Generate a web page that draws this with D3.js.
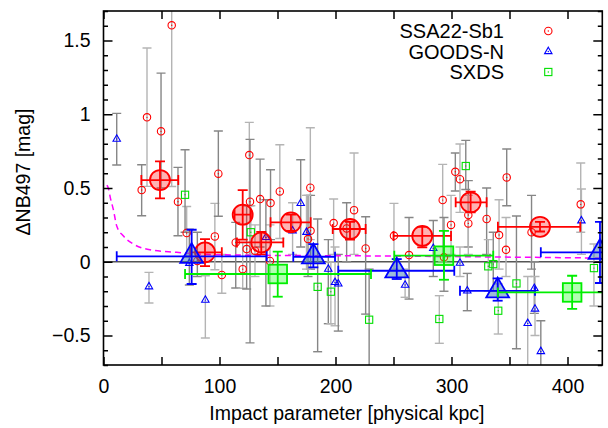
<!DOCTYPE html>
<html><head><meta charset="utf-8">
<script src="https://cdn.jsdelivr.net/npm/d3@7"></script>
<style>
body{margin:0;background:#fff}
svg{display:block}
text{font-family:"Liberation Sans",Arial,Helvetica,sans-serif;fill:#000}
</style>
</head><body>
<svg id="c" width="608" height="428"></svg>
<script>
// ---------------- data ----------------
const xTicks = [0, 100, 200, 300, 400];
const yTicks = [-0.5, 0, 0.5, 1, 1.5];
const seriesNames = ["SSA22-Sb1", "GOODS-N", "SXDS"];
const xLabel = "Impact parameter [physical kpc]";
const yLabel = "\u0394NB497 [mag]";

// individual galaxies: [impact kpc, dmag, err low, err high]
const ssa22Points = [
  [32.9, 0.486, 0.312, 0.658], [37.5, 0.979, 0.511, 1.449], [49.6, 0.884, 0.50, 1.279],
  [58.8, 1.603, 0.51, 1.80], [64.2, 0.407, 0.176, 0.64], [71.7, 0.195, 0.03, 0.375],
  [80.9, 0.005, -0.10, 0.20], [96, 0.172, -0.054, 0.396], [99, 0.597, 0.308, 0.886],
  [102, -0.09, -0.214, 0.05], [114, 0.131, -0.178, 0.267], [120, -0.05, -0.18, 0.13],
  [123.4, 0.086, -0.185, 0.38], [125.7, 0.723, 0.38, 0.945], [126.3, 0.407, -0.55, 0.83],
  [130.6, 0.075, -0.10, 0.25], [135, 0.425, 0.10, 0.696], [143.5, 0.005, -0.30, 0.25],
  [144, 0.398, 0.15, 0.624], [152, 0.477, 0.158, 0.793], [176.3, 0.154, -0.10, 0.45],
  [178.3, 0.502, 0.15, 0.908], [178.5, 0.21, -0.05, 0.45], [198.4, 0.262, 0.05, 0.425],
  [209.6, 0.226, 0.0, 0.40], [216, 0.35, 0.05, 0.737], [226, 0.09, -0.355, 0.305],
  [250.4, 0.176, -0.05, 0.396], [263.4, 0.045, -0.253, 0.30], [292.4, 0.418, 0.0, 0.66],
  [293.5, 0.03, -0.20, 0.30], [299.6, 0.25, 0.05, 0.45], [303.3, 0.61, 0.48, 0.737],
  [307.3, 0.56, 0.335, 0.798], [314.5, 0.317, 0.10, 0.55], [314.5, 0.26, 0.05, 0.45],
  [330.3, 0.29, 0.05, 0.50], [341, 0.181, -0.05, 0.42], [347.6, 0.572, 0.38, 0.764],
  [347, 0.081, -0.10, 0.30], [369, 0.20, -0.05, 0.45], [411.4, 0.389, 0.20, 0.669]
];
const goodsnPoints = [
  [11.4, 0.832, 0.656, 1.006], [39.2, -0.169, -0.28, -0.072], [74, -0.01, -0.158, 0.22],
  [87.8, -0.26, -0.517, -0.095], [140, 0.165, -0.30, 0.42], [163, 0.21, 0.05, 0.40],
  [170, 0.396, 0.10, 0.692], [175, 0.20, -0.05, 0.45], [193.8, -0.05, -0.42, 0.15],
  [199.6, -0.14, -0.434, 0.10], [202.4, -0.15, -0.47, 0.05], [260, -0.158, -0.241, -0.05],
  [284.3, 0.091, -0.10, 0.28], [307.3, -0.009, -0.10, 0.10], [313.6, -0.197, -0.332, -0.079],
  [365.7, -0.418, -0.75, -0.10], [371.4, -0.18, -0.35, 0.0], [372, -0.32, -0.50, -0.10],
  [377, -0.608, -0.75, -0.40], [412, 0.278, 0.05, 0.493]
];
const sxdsPoints = [
  [70.3, 0.454, 0.20, 0.759], [127, 0.20, 0.05, 0.38], [184.6, -0.17, -0.61, 0.29],
  [196, -0.203, -0.42, 0.0], [229, -0.393, -0.75, -0.05], [289.5, -0.388, -0.553, -0.23],
  [312.3, 0.649, 0.49, 0.823], [331.7, -0.031, -0.20, 0.15], [336, -0.016, -0.20, 0.20],
  [340.3, -0.332, -0.49, -0.15], [356, -0.147, -0.59, 0.31], [422.8, -0.043, -0.30, 0.12]
];

// binned averages: [kpc, dmag, kpc low, kpc high, err low, err high]
const ssa22Bins = [
  [48.7, 0.554, 32.6, 64.5, 0.43, 0.68], [87.5, 0.064, 75, 102, -0.03, 0.154],
  [120, 0.319, 113, 127, 0.15, 0.486], [136, 0.131, 115, 155, 0.05, 0.203],
  [161.6, 0.267, 144, 178.6, 0.21, 0.32], [212.5, 0.222, 197.6, 226, 0.15, 0.27],
  [274.8, 0.175, 250, 299.6, 0.098, 0.237], [316.5, 0.403, 303.6, 330.3, 0.335, 0.475],
  [376.3, 0.237, 340, 411, 0.205, 0.27]
];
const goodsnBins = [
  [76, 0.037, 11.4, 140.7, -0.151, 0.217], [180.9, 0.034, 163.6, 199.6, -0.038, 0.12],
  [252.8, -0.061, 202.4, 302.4, -0.117, 0.018], [339.8, -0.197, 307.3, 372, -0.264, -0.113],
  [428, 0.064, 377, 480, -0.144, 0.27]
];
const sxdsBins = [
  [150.2, -0.083, 70.3, 230.6, -0.237, 0.068], [293.5, 0.041, 250.7, 336, -0.122, 0.21],
  [404, -0.208, 340, 470, -0.32, -0.095]
];

// dashed model curve
const modelKpc = [3, 4.1, 6, 8.4, 11.5, 17, 25.7, 40, 63, 83, 120, 170, 221, 300, 430];
const modelMag = [0.52, 0.50, 0.43, 0.357, 0.24, 0.176, 0.12, 0.081, 0.064, 0.052, 0.045, 0.042, 0.04, 0.035, 0.025];

// ---------------- drawing ----------------
const W = 608, H = 428;
const L = 103.5, R = 602.3, T = 11, B = 365;
const svg = d3.select("#c");
const x = d3.scaleLinear().domain([0, 430]).range([L, R]);
const y = d3.scaleLinear().domain([-0.7, 1.7]).range([B, T]);

svg.append("defs").append("clipPath").attr("id", "clip")
  .append("rect").attr("x", L).attr("y", T).attr("width", R - L).attr("height", B - T);

const plot = svg.append("g").attr("clip-path", "url(#clip)");

// zero line
plot.append("line").attr("x1", L).attr("x2", R).attr("y1", y(0)).attr("y2", y(0))
  .attr("stroke", "#555").attr("stroke-width", 1.6);

// grey error bars of individual galaxies
const allPts = ssa22Points.concat(goodsnPoints, sxdsPoints);
const gErr = plot.append("g").attr("stroke-width", 1.4).attr("fill", "none");
allPts.forEach((d, i) => {
  const cx = x(d[0]);
  const col = i % 2 ? "#b4b4b4" : "#868686";
  const g = gErr.append("g").attr("stroke", col);
  g.append("line").attr("x1", cx).attr("x2", cx).attr("y1", y(d[2])).attr("y2", y(d[3]));
  g.append("line").attr("x1", cx - 4.5).attr("x2", cx + 4.5).attr("y1", y(d[2])).attr("y2", y(d[2]));
  g.append("line").attr("x1", cx - 4.5).attr("x2", cx + 4.5).attr("y1", y(d[3])).attr("y2", y(d[3]));
});

// magenta dashed model
const modelData = modelKpc.map((k, i) => [k, modelMag[i]]);
plot.append("path").datum(modelData)
  .attr("d", d3.line().x(d => x(d[0])).y(d => y(d[1])).curve(d3.curveMonotoneX))
  .attr("fill", "none").attr("stroke", "#ff00ff").attr("stroke-width", 1.5)
  .attr("stroke-dasharray", "6,4");

// small markers
function smallMarker(g, type, cx, cy, color) {
  if (type === 0) {
    g.append("circle").attr("cx", cx).attr("cy", cy).attr("r", 3.7)
      .attr("fill", "none").attr("stroke", color).attr("stroke-width", 1.1);
  } else if (type === 1) {
    g.append("path").attr("transform", `translate(${cx},${cy})`)
      .attr("d", d3.symbol(d3.symbolTriangle, 24)())
      .attr("fill", "none").attr("stroke", color).attr("stroke-width", 1.1);
  } else {
    g.append("rect").attr("x", cx - 3.6).attr("y", cy - 3.6).attr("width", 7.2).attr("height", 7.2)
      .attr("fill", "none").attr("stroke", color).attr("stroke-width", 1.1);
  }
  g.append("circle").attr("cx", cx).attr("cy", cy).attr("r", 0.7).attr("fill", color);
}
const colors = ["#ff0000", "#0000ff", "#00e000"];
const gSmall = plot.append("g");
[ssa22Points, goodsnPoints, sxdsPoints].forEach((arr, s) => {
  arr.forEach(d => smallMarker(gSmall, s, x(d[0]), y(d[1]), colors[s]));
});

// binned points
const fills = ["rgba(255,0,0,0.3)", "rgba(60,120,180,0.5)", "rgba(0,255,0,0.3)"];
const bigColors = ["#ff0000", "#0000ff", "#00ee00"];
const gBig = plot.append("g");
[ssa22Bins, goodsnBins, sxdsBins].forEach((arr, s) => {
  arr.forEach(d => {
    const cx = x(d[0]), cy = y(d[1]), c = bigColors[s];
    const g = gBig.append("g");
    if (s === 0) {
      g.append("circle").attr("cx", cx).attr("cy", cy).attr("r", 10)
        .attr("fill", fills[s]).attr("stroke", c).attr("stroke-width", 1.8);
    } else if (s === 1) {
      g.append("path").attr("transform", `translate(${cx},${cy})`)
        .attr("d", d3.symbol(d3.symbolTriangle, 225)())
        .attr("fill", fills[s]).attr("stroke", c).attr("stroke-width", 1.8);
    } else {
      g.append("rect").attr("x", cx - 9.3).attr("y", cy - 9.3).attr("width", 18.6).attr("height", 18.6)
        .attr("fill", fills[s]).attr("stroke", c).attr("stroke-width", 1.8);
    }
    const eb = g.append("g").attr("stroke", c).attr("stroke-width", 1.8);
    eb.append("line").attr("x1", x(d[2])).attr("x2", x(d[3])).attr("y1", cy).attr("y2", cy);
    eb.append("line").attr("x1", x(d[2])).attr("x2", x(d[2])).attr("y1", cy - 5).attr("y2", cy + 5);
    eb.append("line").attr("x1", x(d[3])).attr("x2", x(d[3])).attr("y1", cy - 5).attr("y2", cy + 5);
    eb.append("line").attr("x1", cx).attr("x2", cx).attr("y1", y(d[4])).attr("y2", y(d[5]));
    eb.append("line").attr("x1", cx - 5).attr("x2", cx + 5).attr("y1", y(d[4])).attr("y2", y(d[4]));
    eb.append("line").attr("x1", cx - 5).attr("x2", cx + 5).attr("y1", y(d[5])).attr("y2", y(d[5]));
  });
});

// ---------------- axes ----------------
const fontSize = "19.5px";
const xAllTicks = d3.range(0, 431, 50);
const yMinor = d3.range(-7, 18).map(v => v / 10).filter(v => Math.abs(v * 2 - Math.round(v * 2)) > 1e-6);

function styleAxis(g) {
  g.select(".domain").remove();
  g.selectAll(".tick line").attr("stroke", "#000").attr("stroke-width", 1.5);
  g.selectAll(".tick text").style("font-size", fontSize).attr("fill", "#000")
    .style("font-family", '"Liberation Sans",Arial,sans-serif');
}
svg.append("g").attr("transform", `translate(0,${B})`)
  .call(d3.axisBottom(x).tickValues(xAllTicks).tickSize(-8).tickPadding(14)
    .tickFormat(d => xTicks.includes(d) ? d : ""))
  .call(styleAxis);
svg.append("g").attr("transform", `translate(0,${T})`)
  .call(d3.axisTop(x).tickValues(xAllTicks).tickSize(-8).tickFormat(""))
  .call(styleAxis);
svg.append("g").attr("transform", `translate(${L},0)`)
  .call(d3.axisLeft(y).tickValues(yTicks).tickSize(-9).tickPadding(13).tickFormat(d => d3.format("")(d)))
  .call(styleAxis);
svg.append("g").attr("transform", `translate(${L},0)`)
  .call(d3.axisLeft(y).tickValues(yMinor).tickSize(-4.5).tickFormat(""))
  .call(styleAxis);
svg.append("g").attr("transform", `translate(${R},0)`)
  .call(d3.axisRight(y).tickValues(yTicks).tickSize(-9).tickFormat(""))
  .call(styleAxis);
svg.append("g").attr("transform", `translate(${R},0)`)
  .call(d3.axisRight(y).tickValues(yMinor).tickSize(-4.5).tickFormat(""))
  .call(styleAxis);

// frame
svg.append("rect").attr("x", L).attr("y", T).attr("width", R - L).attr("height", B - T)
  .attr("fill", "none").attr("stroke", "#000").attr("stroke-width", 1.6);

// axis titles
svg.append("text").attr("x", (L + R) / 2 - 6).attr("y", 420).attr("text-anchor", "middle")
  .style("font-size", fontSize).text(xLabel);
svg.append("text").attr("transform", "translate(30,172) rotate(-90)").attr("text-anchor", "middle")
  .style("font-size", fontSize).text(yLabel);

// legend
const legY = [38, 58.5, 79];
seriesNames.forEach((n, i) => {
  svg.append("text").attr("x", 504).attr("y", legY[i]).attr("text-anchor", "end")
    .style("font-size", "20px").text(n);
  smallMarker(svg, i, 548.3, legY[i] - 7, colors[i]);
});
</script>
</body></html>
